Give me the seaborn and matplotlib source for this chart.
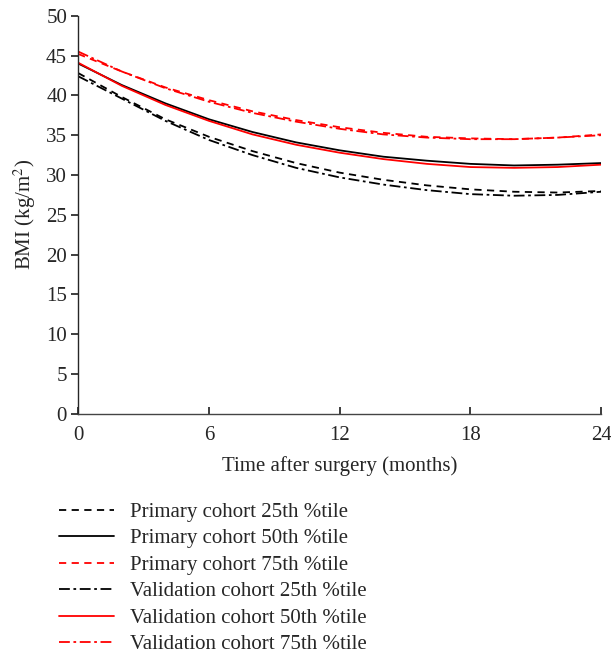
import matplotlib
matplotlib.use("Agg")
import matplotlib.pyplot as plt
import pandas as pd
import seaborn as sns

months = [0, 2, 4, 6, 8, 10, 12, 14, 16, 18, 20, 22, 24]

primary_p25 = [42.8, 39.8, 37.0, 34.8, 33.0, 31.5, 30.3, 29.4, 28.7, 28.2, 27.9, 27.8, 28.0]
primary_p50 = [44.0, 41.3, 39.0, 37.0, 35.4, 34.1, 33.1, 32.3, 31.8, 31.4, 31.2, 31.3, 31.5]
primary_p75 = [45.2, 43.0, 41.0, 39.4, 38.0, 36.9, 36.0, 35.3, 34.8, 34.6, 34.5, 34.7, 35.1]
valid_p25 = [42.4, 39.6, 36.8, 34.4, 32.5, 30.9, 29.7, 28.8, 28.1, 27.6, 27.4, 27.5, 27.9]
valid_p50 = [44.1, 41.2, 38.8, 36.8, 35.1, 33.8, 32.8, 32.0, 31.4, 31.0, 30.9, 31.0, 31.3]
valid_p75 = [45.5, 43.0, 40.9, 39.2, 37.8, 36.7, 35.8, 35.1, 34.7, 34.5, 34.5, 34.7, 35.0]

series = [
    ("Primary cohort 25th %tile", primary_p25, "black", (0, (4, 3))),
    ("Primary cohort 50th %tile", primary_p50, "black", "-"),
    ("Primary cohort 75th %tile", primary_p75, "red", (0, (4, 3))),
    ("Validation cohort 25th %tile", valid_p25, "black", (0, (6, 2, 1.5, 2))),
    ("Validation cohort 50th %tile", valid_p50, "red", "-"),
    ("Validation cohort 75th %tile", valid_p75, "red", (0, (6, 2, 1.5, 2))),
]

sns.set_theme(style="ticks")
plt.rcParams["font.family"] = ["Liberation Serif", "DejaVu Serif"]
plt.rcParams["mathtext.fontset"] = "stix"

FS = 15

fig = plt.figure(figsize=(6.11, 6.56), dpi=100)
ax = fig.add_axes([0.128, 0.369, 0.856, 0.607])

for label, vals, color, ls in series:
    df = pd.DataFrame({"month": months, "bmi": vals})
    sns.lineplot(data=df, x="month", y="bmi", ax=ax, color=color,
                 linestyle=ls, linewidth=1.3, label=label)

ax.set_xlim(0, 24)
ax.set_ylim(0, 50)
ax.set_xticks([0, 6, 12, 18, 24])
ax.set_yticks(range(0, 51, 5))
ax.set_xlabel("Time after surgery (months)", fontsize=FS, labelpad=8)
ax.set_ylabel("BMI (kg/m$^2$)", fontsize=FS, labelpad=6)
ax.tick_params(axis="x", direction="in", length=5, labelsize=FS, pad=9)
ax.tick_params(axis="y", direction="out", length=5, labelsize=FS, pad=3)
sns.despine(ax=ax)
ax.spines["left"].set_linewidth(1.0)
ax.spines["bottom"].set_linewidth(1.0)
ax.spines["bottom"].set_color("#444444")

handles, labels = ax.get_legend_handles_labels()
ax.get_legend().remove()
fig.legend(handles, labels, loc="upper left", bbox_to_anchor=(0.079, 0.25),
           frameon=False, fontsize=FS, handlelength=2.65, handletextpad=0.75,
           labelspacing=0.33, borderpad=0)

fig.savefig("out.png", dpi=100)
